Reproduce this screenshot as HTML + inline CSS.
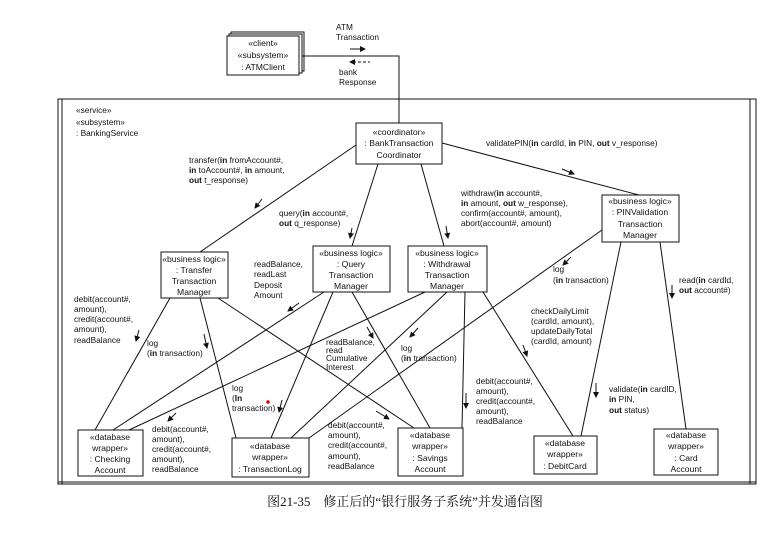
<!DOCTYPE html>
<html><head><meta charset="utf-8"><style>
html,body{margin:0;padding:0;background:#fff;}
svg{display:block;}
text{font-family:"Liberation Sans",Arial,sans-serif;fill:#111;}
.b{font-size:8.6px;}
.l{font-size:8.3px;}
.cap{font-family:"Liberation Serif","Noto Serif CJK SC",serif;font-size:13px;}
</style></head><body>
<svg width="774" height="560" viewBox="0 0 774 560" xmlns="http://www.w3.org/2000/svg">
<defs>
<marker id="a" markerWidth="6" markerHeight="6" refX="5" refY="3" orient="auto" markerUnits="userSpaceOnUse"><path d="M0,0 L6,3 L0,6 Z" fill="#111"/></marker>
</defs>
<rect width="774" height="560" fill="#fff"/>
<g stroke="#111" stroke-width="1" fill="none">
<rect x="231" y="32" width="73" height="39" fill="#fff"/>
<rect x="229" y="34" width="73" height="39" fill="#fff"/>
<rect x="227" y="36" width="72" height="39" fill="#fff"/>
<polyline points="302,56 399,56 399,123"/>
<rect x="58" y="99" width="698" height="385"/>
<line x1="62" y1="99" x2="62" y2="484"/>
<line x1="750" y1="99" x2="750" y2="484"/>
<line x1="58" y1="482" x2="756" y2="482"/>
<line x1="356" y1="145" x2="200" y2="252"/>
<line x1="378" y1="164" x2="352" y2="246"/>
<line x1="421" y1="164" x2="444" y2="246"/>
<line x1="442" y1="143" x2="639" y2="195"/>
<line x1="170" y1="298" x2="95" y2="430"/>
<line x1="200" y1="298" x2="236" y2="438"/>
<line x1="218" y1="298" x2="414" y2="428"/>
<line x1="324" y1="292" x2="113" y2="430"/>
<line x1="333" y1="292" x2="271" y2="438"/>
<line x1="352" y1="292" x2="430" y2="428"/>
<line x1="425" y1="292" x2="129" y2="430"/>
<line x1="447" y1="292" x2="291" y2="438"/>
<line x1="465" y1="292" x2="462" y2="428"/>
<line x1="483" y1="292" x2="573" y2="436"/>
<line x1="602" y1="230" x2="309" y2="438"/>
<line x1="621" y1="242" x2="581" y2="436"/>
<line x1="660" y1="242" x2="686" y2="429"/>
<rect x="356" y="123" width="86" height="41" fill="#fff"/>
<rect x="161" y="252" width="67" height="46" fill="#fff"/>
<rect x="313" y="246" width="77" height="46" fill="#fff"/>
<rect x="408" y="246" width="79" height="46" fill="#fff"/>
<rect x="602" y="195" width="77" height="47" fill="#fff"/>
<rect x="78" y="430" width="65" height="46" fill="#fff"/>
<rect x="232" y="438" width="77" height="39" fill="#fff"/>
<rect x="398" y="428" width="65" height="48" fill="#fff"/>
<rect x="534" y="436" width="63" height="38" fill="#fff"/>
<rect x="654" y="429" width="64" height="46" fill="#fff"/>
</g>
<g stroke="#111" stroke-width="1" marker-end="url(#a)">
<line x1="350" y1="49" x2="365" y2="49"/>
<line x1="262" y1="199" x2="255" y2="208"/>
<line x1="352" y1="228" x2="350" y2="238"/>
<line x1="446" y1="226" x2="448" y2="238"/>
<line x1="562" y1="169" x2="574" y2="174"/>
<line x1="571" y1="257" x2="563" y2="265"/>
<line x1="672" y1="285" x2="672" y2="298"/>
<line x1="139" y1="330" x2="136" y2="341"/>
<line x1="204" y1="334" x2="207" y2="348"/>
<line x1="299" y1="303" x2="288" y2="311"/>
<line x1="367" y1="327" x2="373" y2="338"/>
<line x1="418" y1="328" x2="410" y2="337"/>
<line x1="523" y1="345" x2="527" y2="356"/>
<line x1="466" y1="393" x2="466" y2="408"/>
<line x1="596" y1="383" x2="596" y2="397"/>
<line x1="282" y1="400" x2="279" y2="412"/>
<line x1="176" y1="413" x2="168" y2="421"/>
<line x1="376" y1="411" x2="389" y2="419"/>
</g>
<line x1="353" y1="62" x2="370" y2="62" stroke="#111" stroke-dasharray="3,2"/>
<path d="M349,62 L355,59 L355,65 Z" fill="#111"/>
<circle cx="268" cy="402" r="1.8" fill="#e00"/>
<g class="b" text-anchor="middle">
<text x="263" y="46">«client»</text><text x="263" y="58">«subsystem»</text><text x="263" y="70">: ATMClient</text>
<text x="399" y="135">«coordinator»</text><text x="399" y="146">: BankTransaction</text><text x="399" y="158">Coordinator</text>
<text x="194" y="262">«business logic»</text><text x="194" y="273">: Transfer</text><text x="194" y="284">Transaction</text><text x="194" y="295">Manager</text>
<text x="351" y="256">«business logic»</text><text x="351" y="267">: Query</text><text x="351" y="278">Transaction</text><text x="351" y="289">Manager</text>
<text x="447" y="256">«business logic»</text><text x="447" y="267">: Withdrawal</text><text x="447" y="278">Transaction</text><text x="447" y="289">Manager</text>
<text x="640" y="204">«business logic»</text><text x="640" y="215">: PINValidation</text><text x="640" y="227">Transaction</text><text x="640" y="238">Manager</text>
<text x="110" y="440">«database</text><text x="110" y="451">wrapper»</text><text x="110" y="462">: Checking</text><text x="110" y="473">Account</text>
<text x="270" y="449">«database</text><text x="270" y="460">wrapper»</text><text x="270" y="472">: TransactionLog</text>
<text x="430" y="438">«database</text><text x="430" y="449">wrapper»</text><text x="430" y="461">: Savings</text><text x="430" y="472">Account</text>
<text x="565" y="446">«database</text><text x="565" y="457">wrapper»</text><text x="565" y="469">: DebitCard</text>
<text x="686" y="438">«database</text><text x="686" y="449">wrapper»</text><text x="686" y="461">: Card</text><text x="686" y="472">Account</text>
</g>
<g class="l">
<text x="336" y="30">ATM</text><text x="336" y="40">Transaction</text>
<text x="339" y="75">bank</text><text x="339" y="85">Response</text>
<text x="76" y="113">«service»</text><text x="76" y="125">«subsystem»</text><text x="76" y="136">: BankingService</text>
<text x="486" y="146">validatePIN(<tspan font-weight="bold">in</tspan> cardId, <tspan font-weight="bold">in</tspan> PIN, <tspan font-weight="bold">out</tspan> v_response)</text>
<text x="189" y="163">transfer(<tspan font-weight="bold">in</tspan> fromAccount#,</text><text x="189" y="173"><tspan font-weight="bold">in</tspan> toAccount#, <tspan font-weight="bold">in</tspan> amount,</text><text x="189" y="183"><tspan font-weight="bold">out</tspan> t_response)</text>
<text x="279" y="216">query(<tspan font-weight="bold">in</tspan> account#,</text><text x="279" y="226"><tspan font-weight="bold">out</tspan> q_response)</text>
<text x="461" y="196">withdraw(<tspan font-weight="bold">in</tspan> account#,</text><text x="461" y="206"><tspan font-weight="bold">in</tspan> amount, <tspan font-weight="bold">out</tspan> w_response),</text><text x="461" y="216">confirm(account#, amount),</text><text x="461" y="226">abort(account#, amount)</text>
<text x="254" y="267">readBalance,</text><text x="254" y="277">readLast</text><text x="254" y="288">Deposit</text><text x="254" y="298">Amount</text>
<text x="553" y="272">log</text><text x="553" y="283">(<tspan font-weight="bold">in</tspan> transaction)</text>
<text x="679" y="283">read(<tspan font-weight="bold">in</tspan> cardId,</text><text x="679" y="293"><tspan font-weight="bold">out</tspan> account#)</text>
<text x="74" y="302">debit(account#,</text><text x="74" y="312">amount),</text><text x="74" y="322">credit(account#,</text><text x="74" y="332">amount),</text><text x="74" y="343">readBalance</text>
<text x="147" y="346">log</text><text x="147" y="356">(<tspan font-weight="bold">in</tspan> transaction)</text>
<text x="326" y="345">readBalance,</text><text x="326" y="353">read</text><text x="326" y="361">Cumulative</text><text x="326" y="370">Interest</text>
<text x="401" y="351">log</text><text x="401" y="361">(<tspan font-weight="bold">in</tspan> transaction)</text>
<text x="531" y="314">checkDailyLimit</text><text x="531" y="324">(cardId, amount),</text><text x="531" y="334">updateDailyTotal</text><text x="531" y="344">(cardId, amount)</text>
<text x="232" y="391">log</text><text x="232" y="401">(<tspan font-weight="bold">In</tspan></text><text x="232" y="411">transaction)</text>
<text x="476" y="384">debit(account#,</text><text x="476" y="394">amount),</text><text x="476" y="404">credit(account#,</text><text x="476" y="414">amount),</text><text x="476" y="424">readBalance</text>
<text x="609" y="392">validate(<tspan font-weight="bold">in</tspan> cardID,</text><text x="609" y="402"><tspan font-weight="bold">in</tspan> PIN,</text><text x="609" y="413"><tspan font-weight="bold">out</tspan> status)</text>
<text x="152" y="432">debit(account#,</text><text x="152" y="442">amount),</text><text x="152" y="452">credit(account#,</text><text x="152" y="462">amount),</text><text x="152" y="472">readBalance</text>
<text x="328" y="428">debit(account#,</text><text x="328" y="438">amount),</text><text x="328" y="448">credit(account#,</text><text x="328" y="459">amount),</text><text x="328" y="469">readBalance</text>
</g>
<text class="cap" x="405" y="506" text-anchor="middle">图21-35　修正后的“银行服务子系统”并发通信图</text>
</svg>
</body></html>
